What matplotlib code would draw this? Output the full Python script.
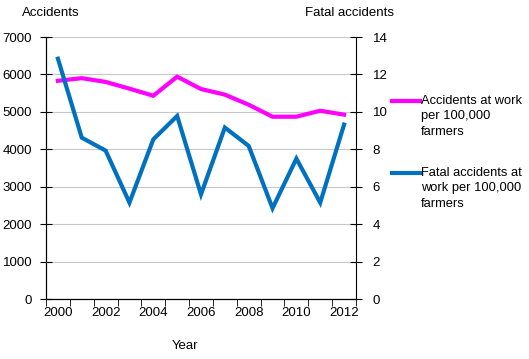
import matplotlib.pyplot as plt
from matplotlib.lines import Line2D
import numpy as np

plt.rcParams['font.family'] = ['Liberation Sans', 'DejaVu Sans']
plt.rcParams['font.size'] = 9

years = list(range(2000, 2013))
accidents = [5830, 5900, 5800, 5620, 5430, 5940, 5610, 5460, 5190, 4870, 4870, 5030, 4925]
fatal = [12.84, 8.62, 7.93, 5.15, 8.53, 9.78, 5.59, 9.16, 8.18, 4.85, 7.50, 5.15, 9.32]
year_labels = [str(y) if y % 2 == 0 else '' for y in years]

W, H = 529, 359
fig = plt.figure(figsize=(W / 100, H / 100), dpi=100)
ax = fig.add_axes([46 / W, 60 / H, 310 / W, 262 / H])
ax2 = ax.twinx()

x = np.arange(len(years))
ax.plot(x, accidents, color='#FF00FF', lw=3, solid_joinstyle='miter', zorder=3)
ax2.plot(x, fatal, color='#0070C0', lw=3, solid_joinstyle='miter', zorder=3)

ax.set_xlim(-0.5, len(years) - 0.5)
ax.set_ylim(0, 7000)
ax2.set_ylim(0, 14)
ax.set_yticks(range(0, 7001, 1000))
ax2.set_yticks(range(0, 15, 2))
ax.yaxis.grid(True, color='#c8c8c8', lw=0.8)
ax.set_axisbelow(True)

ax.set_xticks(x)
ax.set_xticklabels(year_labels, fontsize=9.5)
ax.set_xticks(np.arange(-0.5, len(years)), minor=True)
ax.tick_params(axis='x', which='major', length=0, pad=6)
ax.tick_params(axis='x', which='minor', length=5, direction='out')
ax.tick_params(axis='y', direction='inout', length=8, pad=6, labelsize=9.5)
ax2.tick_params(axis='y', direction='inout', length=8, pad=8, labelsize=9.5)

for a in (ax, ax2):
    a.spines['top'].set_visible(False)
ax.spines['right'].set_visible(False)

fig.text(22 / W, 1 - 13 / H, 'Accidents', va='center', ha='left', fontsize=9.5)
fig.text(305 / W, 1 - 13 / H, 'Fatal accidents', va='center', ha='left', fontsize=9.5)
fig.text(185 / W, 1 - 346 / H, 'Year', va='center', ha='center', fontsize=9.5)

# legend drawn by hand, line beside first text row
legend_items = [
    ('#FF00FF', ['Accidents at work', 'per 100,000', 'farmers'], 101),
    ('#0070C0', ['Fatal accidents at', 'work per 100,000', 'farmers'], 173),
]
for color, lines, ytop in legend_items:
    fig.add_artist(Line2D([392 / W, 420 / W], [1 - ytop / H] * 2, color=color, lw=3))
    for i, t in enumerate(lines):
        fig.text(421 / W, 1 - (ytop + i * 15.5) / H, t, va='center', ha='left', fontsize=9.3)

fig.savefig('out.png', dpi=100)
